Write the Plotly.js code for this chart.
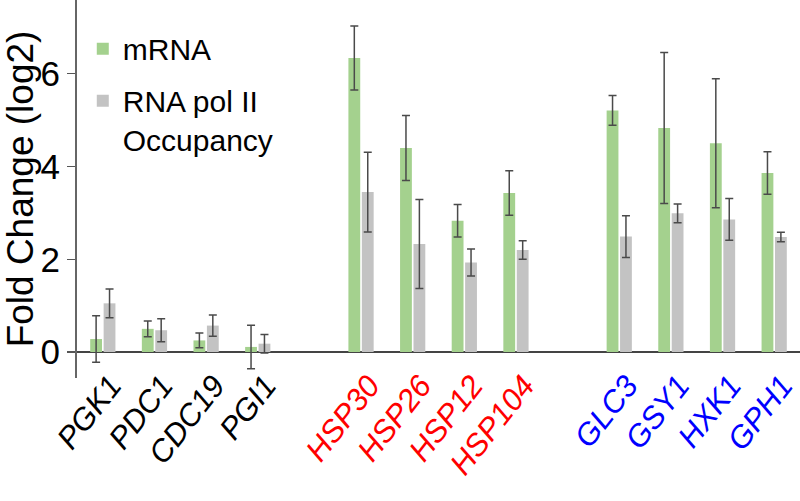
<!DOCTYPE html>
<html>
<head>
<meta charset="utf-8">
<script src="https://cdn.plot.ly/plotly-3.0.1.min.js"></script>
<style>
  html, body { margin: 0; padding: 0; background: #fff; }
  #chart { width: 800px; height: 501px; }
</style>
</head>
<body>
<div id="chart"></div>
<script>
// ---- data ----
const genes = ["PGK1", "PDC1", "CDC19", "PGI1",
               "HSP30", "HSP26", "HSP12", "HSP104",
               "GLC3", "GSY1", "HXK1", "GPH1"];
const geneGroup = ["control", "control", "control", "control",
                   "heat", "heat", "heat", "heat",
                   "glycogen", "glycogen", "glycogen", "glycogen"];
const groupColor = { control: "#000000", heat: "#ff0000", glycogen: "#0000ff" };

const mrna     = [0.28, 0.50, 0.25, 0.11, 6.34, 4.40, 2.83, 3.43, 5.21, 4.83, 4.50, 3.86];
const mrnaErr  = [0.50, 0.17, 0.16, 0.47, 0.69, 0.70, 0.35, 0.48, 0.32, 1.63, 1.39, 0.46];
const pol      = [1.05, 0.47, 0.57, 0.18, 3.45, 2.33, 1.93, 2.20, 2.49, 2.99, 2.86, 2.48];
const polErr   = [0.31, 0.25, 0.23, 0.20, 0.86, 0.96, 0.29, 0.20, 0.45, 0.20, 0.45, 0.10];

const seriesNames = ["mRNA", "RNA pol II<br>Occupancy"];
const yTicks = [0, 2, 4, 6];

// ---- build category axis with a blank slot between gene groups ----
const cats = [], mY = [], mE = [], pY = [], pE = [];
genes.forEach((g, i) => {
  if (i > 0 && geneGroup[i] !== geneGroup[i - 1]) {
    const spacer = " ".repeat(cats.length);
    cats.push(spacer); mY.push(null); mE.push(null); pY.push(null); pE.push(null);
  }
  cats.push(g); mY.push(mrna[i]); mE.push(mrnaErr[i]); pY.push(pol[i]); pE.push(polErr[i]);
});
const tickText = genes.map((g, i) =>
  '<span style="color:' + groupColor[geneGroup[i]] + '">' + g + '</span>');

const errStyle = { type: "data", visible: true, color: "#4a4a4a", thickness: 1.5, width: 4 };

const traces = [
  { type: "bar", name: seriesNames[0], legendgroup: "a", x: cats, y: mY,
    marker: { color: "#a4d18e" },
    error_y: Object.assign({ array: mE }, errStyle) },
  { type: "bar", name: seriesNames[1], legendgroup: "b", x: cats, y: pY,
    marker: { color: "#c3c3c3" },
    error_y: Object.assign({ array: pE }, errStyle) }
];

const layout = {
  width: 800, height: 501,
  margin: { l: 77, r: 0, t: 0, b: 123, pad: 0 },
  paper_bgcolor: "#ffffff", plot_bgcolor: "#ffffff",
  font: { family: "Liberation Sans, Arial, sans-serif", color: "#000" },
  barmode: "group", bargap: 0.48, bargroupgap: 0.12,
  showlegend: true,
  legend: {
    x: 0.008, y: 0.94, xanchor: "left", yanchor: "top",
    bgcolor: "rgba(0,0,0,0)", borderwidth: 0, valign: "top",
    font: { size: 30, family: "Liberation Sans, Arial, sans-serif" },
    tracegroupgap: 10
  },
  xaxis: {
    type: "category", categoryorder: "array", categoryarray: cats,
    range: [-0.5, cats.length - 0.5],
    tickvals: genes, ticktext: tickText,
    tickangle: -52, ticks: "", showline: false, showgrid: false, zeroline: false,
    ticklabelstandoff: -18, ticklabelshift: 8,
    tickfont: { size: 31, style: "italic", family: "Liberation Sans, Arial, sans-serif" }
  },
  yaxis: {
    range: [-0.56, 7.59],
    tickvals: yTicks, ticks: "outside", ticklen: 8, tickwidth: 1.5, tickcolor: "#555",
    showline: true, linecolor: "#666", linewidth: 2,
    showgrid: false, zeroline: true, zerolinecolor: "#444", zerolinewidth: 2,
    tickfont: { size: 35 },
    title: { text: "Fold Change (log2)", font: { size: 37 }, standoff: 6 }
  }
};

Plotly.newPlot("chart", traces, layout, { displayModeBar: false, staticPlot: true });
</script>
</body>
</html>
